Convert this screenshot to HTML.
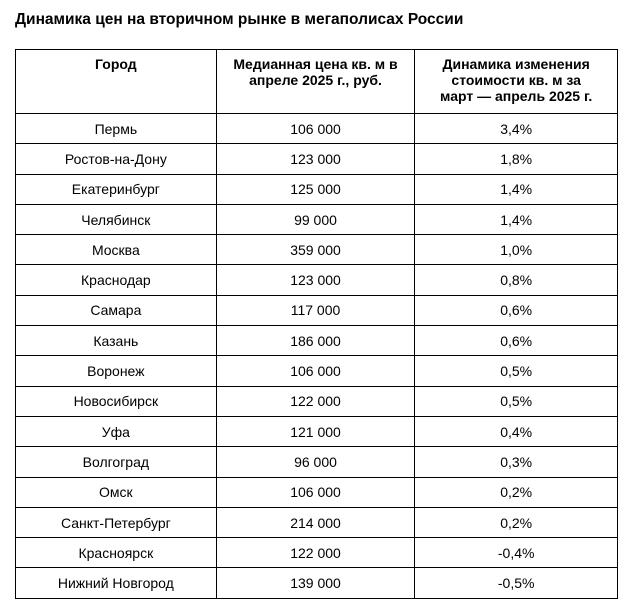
<!DOCTYPE html>
<html><head><meta charset="utf-8"><style>
body{margin:0;background:#fff;font-family:"Liberation Sans",Arial,sans-serif;color:#000}
.t{position:absolute;left:15px;top:11px;font-size:15.5px;font-weight:bold}
table{position:absolute;left:15px;top:49px;width:603px;border-collapse:collapse;font-size:14px}
td,th{border:1.5px solid #000;text-align:center;padding:0}
th{height:64px;vertical-align:top;padding-top:6px;line-height:16px;font-weight:bold;box-sizing:border-box}
td{height:29.3px;font-weight:normal}
</style></head><body>
<div class="t">Динамика цен на вторичном рынке в мегаполисах России</div>
<table>
<colgroup><col style="width:201px"><col style="width:199px"><col style="width:203px"></colgroup>
<tr><th>Город</th><th>Медианная цена кв. м в<br>апреле 2025 г., руб.</th><th>Динамика изменения<br>стоимости кв. м за<br>март — апрель 2025 г.</th></tr>
<tr><td>Пермь</td><td>106 000</td><td>3,4%</td></tr>
<tr><td>Ростов-на-Дону</td><td>123 000</td><td>1,8%</td></tr>
<tr><td>Екатеринбург</td><td>125 000</td><td>1,4%</td></tr>
<tr><td>Челябинск</td><td>99 000</td><td>1,4%</td></tr>
<tr><td>Москва</td><td>359 000</td><td>1,0%</td></tr>
<tr><td>Краснодар</td><td>123 000</td><td>0,8%</td></tr>
<tr><td>Самара</td><td>117 000</td><td>0,6%</td></tr>
<tr><td>Казань</td><td>186 000</td><td>0,6%</td></tr>
<tr><td>Воронеж</td><td>106 000</td><td>0,5%</td></tr>
<tr><td>Новосибирск</td><td>122 000</td><td>0,5%</td></tr>
<tr><td>Уфа</td><td>121 000</td><td>0,4%</td></tr>
<tr><td>Волгоград</td><td>96 000</td><td>0,3%</td></tr>
<tr><td>Омск</td><td>106 000</td><td>0,2%</td></tr>
<tr><td>Санкт-Петербург</td><td>214 000</td><td>0,2%</td></tr>
<tr><td>Красноярск</td><td>122 000</td><td>-0,4%</td></tr>
<tr><td>Нижний Новгород</td><td>139 000</td><td>-0,5%</td></tr>
</table>
</body></html>
